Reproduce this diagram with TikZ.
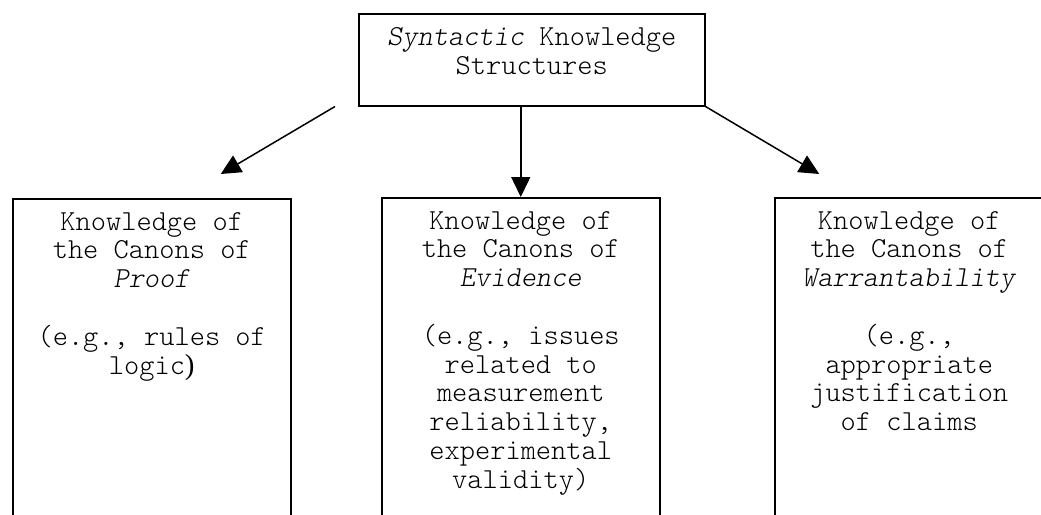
\documentclass[tikz,border=0pt]{standalone}
\usepackage{fontspec}
\setmainfont{Latin Modern Mono Light}
\newfontfamily\serifaux{Liberation Serif}
\usetikzlibrary{arrows.meta,positioning,calc}

\begin{document}
\begin{tikzpicture}[
    x=1pt,y=-1pt,
    node distance=14pt,
    quadro/.style={draw,line width=1.5pt,minimum width=#1,
      anchor=north west,inner sep=0pt},
    texto/.style={align=center,inner sep=0pt,
      font=\fontsize{29}{28.8}\selectfont},
    seta/.style={-{Triangle[length=20pt,width=19pt]},line width=1.5pt}
    ]
    \useasboundingbox (0,0) rectangle (1041,514);
    \clip (0,0) rectangle (1041,514);

    % topo
    \node[quadro=346pt, minimum height=92pt] (sintaxe) at (358,13) {};
    \node[texto, below=of sintaxe.north] (sintaxeT)
      {\textit{Syntactic} Knowledge\\Structures};

    % caixas de baixo (cortadas na margem)
    \node[quadro=278pt, minimum height=340pt] (prova)     at (12,198)  {};
    \node[quadro=278pt, minimum height=340pt] (evidencia) at (381,197) {};
    \node[quadro=269pt, minimum height=340pt] (garantia)  at (774,197) {};

    \node[texto, below=of prova.north] (provaT)
      {Knowledge of\\the Canons of\\\textit{Proof}\\[28.8pt]
       (e.g., rules of\\logic{\serifaux )}};
    \node[texto, below=of evidencia.north] (evidenciaT)
      {Knowledge of\\the Canons of\\\textit{Evidence}\\[28.8pt]
       (e.g., issues\\related to\\measurement\\reliability,\\experimental\\validity)};
    \node[texto, below=of garantia.north] (garantiaT)
      {Knowledge of\\the Canons of\\\textit{Warrantability}\\[28.8pt]
       (e.g.,\\appropriate\\justification\\of claims};

    % setas
    \draw[seta] ($(sintaxe.south west)+(-23,0)$) -- ($(prova.north)+(69,-24)$);
    \draw[seta] (sintaxe.south -| evidencia.north) -- (evidencia.north);
    \draw[seta] (sintaxe.south east) -- ($(garantia.north)+(-90,-23)$);
  \end{tikzpicture}
\end{document}
